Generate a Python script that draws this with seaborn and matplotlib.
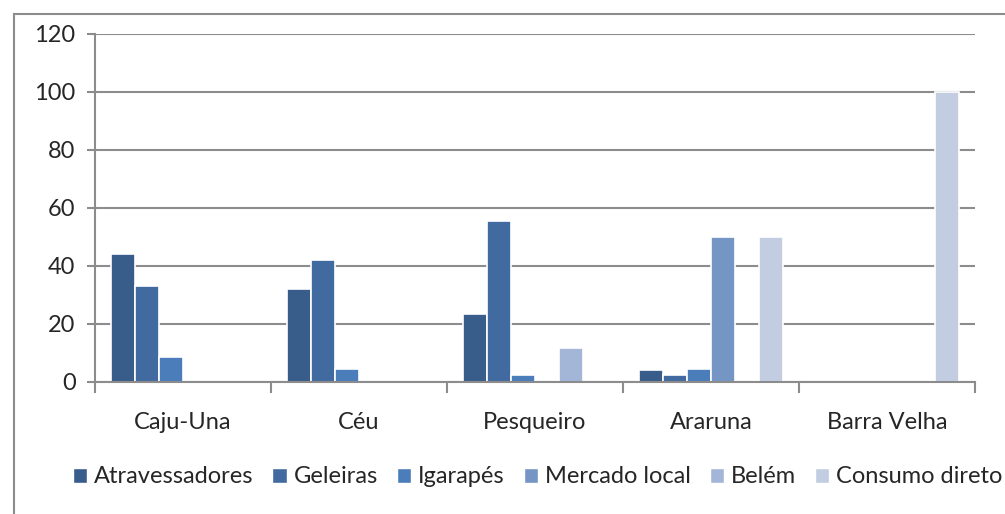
import pandas as pd
import matplotlib.pyplot as plt
import matplotlib.patches as mpatches
import seaborn as sns

# data
localidades = ['Caju-Una', 'Céu', 'Pesqueiro', 'Araruna', 'Barra Velha']
destinos = ['Atravessadores', 'Geleiras', 'Igarapés', 'Mercado local', 'Belém', 'Consumo direto']
atravessadores = [44, 32, 23.5, 4, 0]
geleiras = [33, 42, 55.5, 2.5, 0]
igarapes = [8.7, 4.5, 2.5, 4.5, 0]
mercado_local = [0, 0, 0, 50, 0]
belem = [0, 0, 11.7, 0, 0]
consumo_direto = [0, 0, 0, 50, 100]
cores = ['#395D8A', '#416BA0', '#4A7DBA', '#7596C5', '#A3B6D7', '#C2CDE2']

series = [atravessadores, geleiras, igarapes, mercado_local, belem, consumo_direto]
rows = []
for destino, valores in zip(destinos, series):
    for loc, v in zip(localidades, valores):
        if v > 0:
            rows.append({'Localidade': loc, 'Destino': destino, 'Valor': v})
df = pd.DataFrame(rows)

sns.set_style('white')
plt.rcParams['font.family'] = ['Lato', 'DejaVu Sans']

fig = plt.figure(figsize=(10.05, 5.14), dpi=100)
ax = fig.add_axes([0.0945, 0.257, 0.8755, 0.677])

sns.barplot(data=df, x='Localidade', y='Valor', hue='Destino', order=localidades,
            hue_order=destinos, palette=cores, saturation=1, width=0.82,
            edgecolor='white', linewidth=1.2, ax=ax, legend=False, zorder=3)

ax.set_ylim(0, 120)
ax.set_yticks(range(0, 121, 20))
ax.set_xlim(-0.5, 4.5)
ax.set_xlabel('')
ax.set_ylabel('')
ax.grid(axis='y', color='#8c8c8c', linewidth=1.5, zorder=0)
ax.set_axisbelow(True)
for s in ['top', 'right']:
    ax.spines[s].set_visible(False)
for s in ['left', 'bottom']:
    ax.spines[s].set_color('#8c8c8c')
    ax.spines[s].set_linewidth(1.5)
    ax.spines[s].set_zorder(4)

ax.tick_params(axis='y', which='major', left=True, length=6, width=1.5, color='#8c8c8c',
               labelsize=17, pad=8)
ax.tick_params(axis='x', which='major', length=0, labelsize=17, pad=22)
ax.set_xticks([i - 0.5 for i in range(6)], minor=True)
ax.tick_params(axis='x', which='minor', bottom=True, length=8, width=1.5, color='#8c8c8c')

handles = [mpatches.Patch(facecolor=c, label=d) for c, d in zip(cores, destinos)]
fig.legend(handles=handles, loc='center', bbox_to_anchor=(0.535, 0.072), ncol=6,
           frameon=False, fontsize=17, handlelength=0.6, handleheight=0.6,
           handletextpad=0.3, columnspacing=0.8)

# chart frame
fig.patches.append(mpatches.Rectangle((14 / 1005, -0.1), 1.1, 1 - 14 / 514 + 0.1,
                                      transform=fig.transFigure, fill=False,
                                      edgecolor='#8c8c8c', linewidth=1.5))

fig.savefig('out.png', dpi=100)
